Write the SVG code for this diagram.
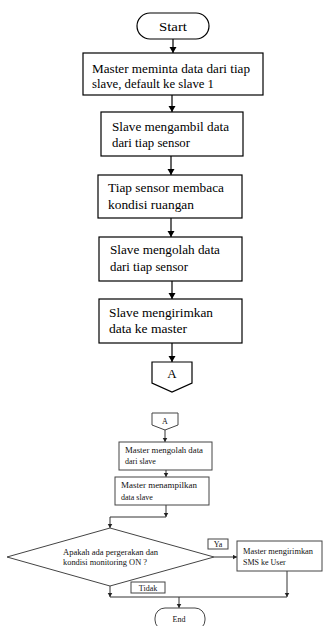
<svg xmlns="http://www.w3.org/2000/svg" width="330" height="626" viewBox="0 0 330 626">
<style>
.box{fill:#fff;stroke:#000;stroke-width:1.2}
.sbox{fill:#fff;stroke:#444;stroke-width:1}
.ln{fill:none;stroke:#000;stroke-width:1.2}
.sln{fill:none;stroke:#333;stroke-width:1}
.t{font-family:"Liberation Serif","DejaVu Serif",serif;font-size:13px;fill:#000}
.s{font-family:"Liberation Serif","DejaVu Serif",serif;font-size:8px;fill:#111}
</style>
<defs>
<marker id="ah" markerWidth="8" markerHeight="8" refX="6" refY="3.5" orient="auto" markerUnits="userSpaceOnUse">
<path d="M0,0 L6,3.5 L0,7 Z" fill="#000"/>
</marker>
<marker id="sah" markerWidth="6" markerHeight="6" refX="4.5" refY="2.5" orient="auto" markerUnits="userSpaceOnUse">
<path d="M0,0 L4.5,2.5 L0,5 Z" fill="#222"/>
</marker>
</defs>
<g id="connectors">
<line class="ln" x1="173" y1="39" x2="173" y2="53" marker-end="url(#ah)"/>
<line class="ln" x1="172" y1="95" x2="172" y2="112" marker-end="url(#ah)"/>
<line class="ln" x1="171" y1="156" x2="171" y2="175" marker-end="url(#ah)"/>
<line class="ln" x1="171" y1="218" x2="171" y2="237" marker-end="url(#ah)"/>
<line class="ln" x1="172" y1="281" x2="172" y2="299" marker-end="url(#ah)"/>
<line class="ln" x1="172" y1="343" x2="172" y2="362" marker-end="url(#ah)"/>
<line class="sln" x1="165" y1="430" x2="165" y2="442" marker-end="url(#sah)"/>
<line class="sln" x1="166" y1="470" x2="166" y2="477" marker-end="url(#sah)"/>
<line class="sln" x1="166" y1="505" x2="166" y2="517" marker-end="url(#sah)"/>
<polyline class="sln" points="166,517 110,517 110,528" marker-end="url(#sah)"/>
<line class="sln" x1="214" y1="557" x2="237" y2="557" marker-end="url(#sah)"/>
<line class="sln" x1="287" y1="571" x2="287" y2="597" marker-end="url(#sah)"/>
<line class="sln" x1="110" y1="586" x2="110" y2="597" marker-end="url(#sah)"/>
<line class="sln" x1="110" y1="597" x2="287" y2="597"/>
<line class="sln" x1="179" y1="597" x2="179" y2="608" marker-end="url(#sah)"/>
</g>
<g id="start">
<rect class="box" x="137" y="13" width="72" height="26" rx="13"/>
<text class="t" x="173" y="31" text-anchor="middle" textLength="28" lengthAdjust="spacingAndGlyphs">Start</text>
</g>
<g id="n1">
<rect class="box" x="83" y="53" width="180" height="42"/>
<text class="t" x="92" y="73" textLength="158" lengthAdjust="spacingAndGlyphs">Master meminta data dari tiap</text>
<text class="t" x="92" y="88" textLength="122" lengthAdjust="spacingAndGlyphs">slave, default ke slave 1</text>
</g>
<g id="n2">
<rect class="box" x="101" y="112" width="142" height="44"/>
<text class="t" x="112" y="131" textLength="117" lengthAdjust="spacingAndGlyphs">Slave mengambil data</text>
<text class="t" x="112" y="147" textLength="78" lengthAdjust="spacingAndGlyphs">dari tiap sensor</text>
</g>
<g id="n3">
<rect class="box" x="98" y="175" width="144" height="43"/>
<text class="t" x="108" y="192" textLength="116" lengthAdjust="spacingAndGlyphs">Tiap sensor membaca</text>
<text class="t" x="108" y="209" textLength="86" lengthAdjust="spacingAndGlyphs">kondisi ruangan</text>
</g>
<g id="n4">
<rect class="box" x="99" y="237" width="143" height="44"/>
<text class="t" x="110" y="254" textLength="110" lengthAdjust="spacingAndGlyphs">Slave mengolah data</text>
<text class="t" x="110" y="271" textLength="78" lengthAdjust="spacingAndGlyphs">dari tiap sensor</text>
</g>
<g id="n5">
<rect class="box" x="99" y="299" width="143" height="44"/>
<text class="t" x="109" y="317" textLength="104" lengthAdjust="spacingAndGlyphs">Slave mengirimkan</text>
<text class="t" x="109" y="333" textLength="78" lengthAdjust="spacingAndGlyphs">data ke master</text>
</g>
<g id="connA1">
<polygon class="box" points="152,362 192,362 192,383 172,392 152,383"/>
<text class="t" x="172" y="378" text-anchor="middle" font-size="14">A</text>
</g>
<g id="connA2">
<polygon class="sbox" points="152,413 178,413 178,425 165,430 152,425"/>
<text class="s" x="165" y="424" text-anchor="middle">A</text>
</g>
<g id="n6">
<rect class="sbox" x="119" y="442" width="93" height="28"/>
<text class="s" x="125" y="453" textLength="78" lengthAdjust="spacingAndGlyphs">Master mengolah data</text>
<text class="s" x="125" y="464">dari slave</text>
</g>
<g id="n7">
<rect class="sbox" x="115" y="477" width="94" height="28"/>
<text class="s" x="121" y="488" textLength="76" lengthAdjust="spacingAndGlyphs">Master menampilkan</text>
<text class="s" x="121" y="500">data slave</text>
</g>
<g id="decision">
<polygon class="sbox" points="110,528 214,557 110,586 7,557"/>
<text class="s" x="63" y="555" textLength="95" lengthAdjust="spacingAndGlyphs">Apakah ada pergerakan dan</text>
<text class="s" x="63" y="565" textLength="84" lengthAdjust="spacingAndGlyphs">kondisi monitoring ON ?</text>
</g>
<g id="labelYa">
<rect class="sbox" x="208" y="539" width="20" height="10"/>
<text class="s" x="218" y="546.5" text-anchor="middle" font-size="6">Ya</text>
</g>
<g id="n8">
<rect class="sbox" x="237" y="541" width="85" height="30"/>
<text class="s" x="243" y="554" textLength="70" lengthAdjust="spacingAndGlyphs">Master mengirimkan</text>
<text class="s" x="243" y="565">SMS ke User</text>
</g>
<g id="labelTidak">
<rect class="sbox" x="131" y="582" width="34" height="11"/>
<text class="s" x="148" y="590.5" text-anchor="middle" font-size="6.5">Tidak</text>
</g>
<g id="end">
<rect class="sbox" x="155" y="608" width="50" height="22" rx="10"/>
<text class="s" x="179" y="622" text-anchor="middle" font-size="9">End</text>
</g>
</svg>
